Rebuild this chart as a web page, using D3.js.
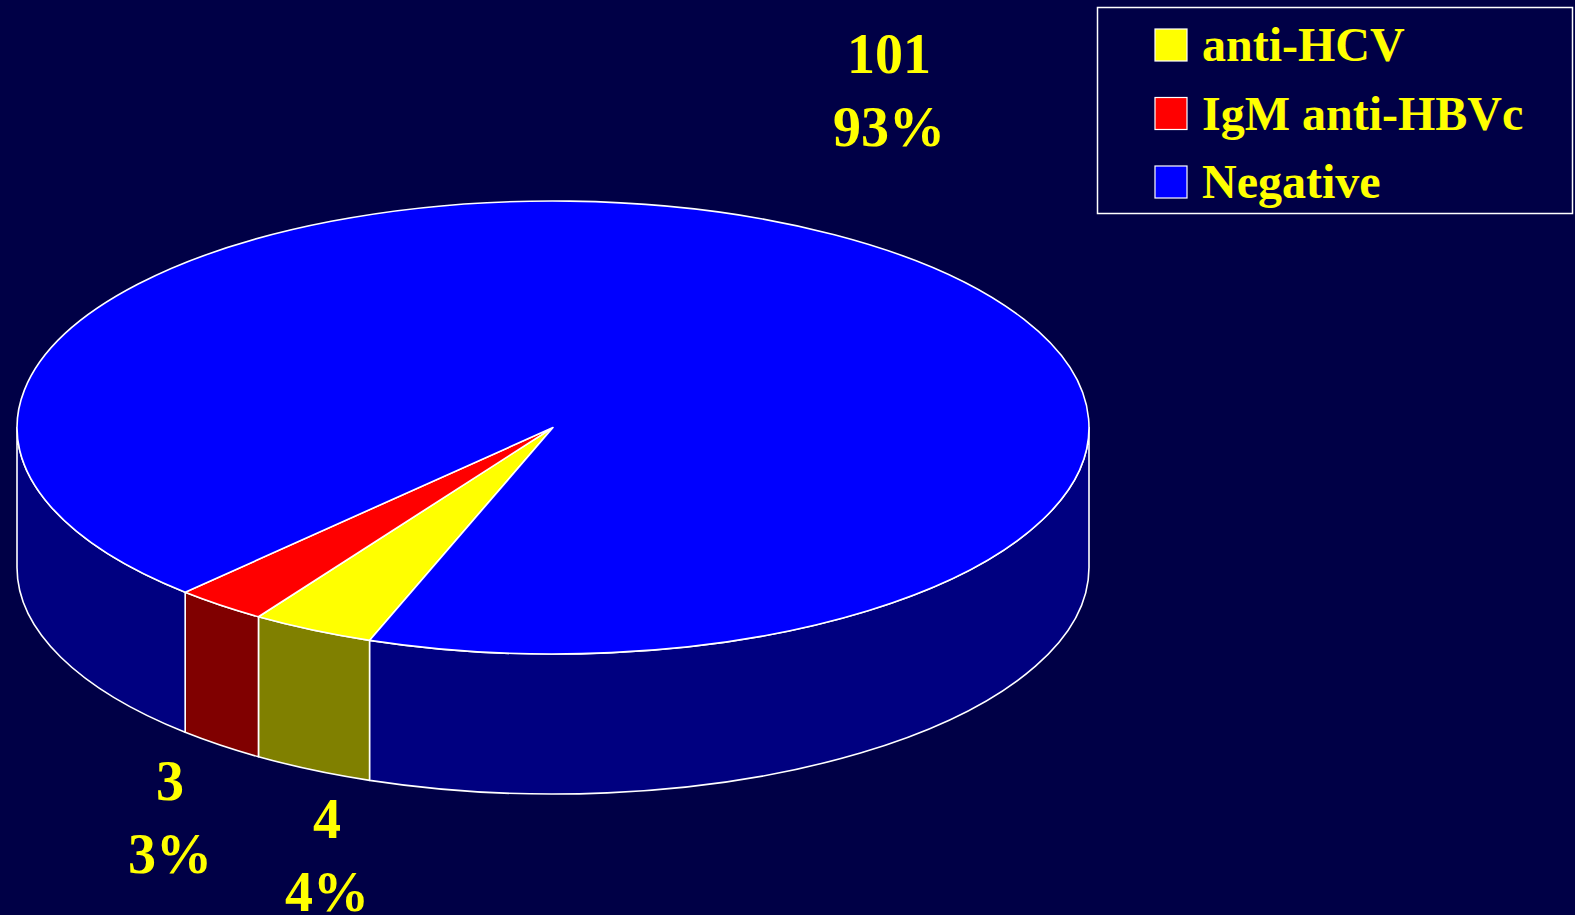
<!DOCTYPE html>
<html>
<head>
<meta charset="utf-8">
<script src="https://cdn.jsdelivr.net/npm/d3@7"></script>
<style>
  html, body { margin: 0; padding: 0; background: #000046; overflow: hidden; }
  svg { display: block; }
</style>
</head>
<body>
<svg id="chart"></svg>
<script>
// data
const categories = ["anti-HCV", "IgM anti-HBVc", "Negative"];
const counts = [4, 3, 101];
const topColors = ["#ffff00", "#ff0000", "#0000ff"];
const sideColors = ["#808000", "#800000", "#000080"];

// layout
const W = 1575, H = 915;
const cx = 553, cy = 427.5, rx = 536, ry = 226.5, depth = 140;
const startDeg = 200; // first slice starts at lower left, going clockwise
// label anchors (centre x, first baseline) per slice
const labelAt = [[327, 838], [170, 800], [889, 73]];

const svg = d3.select("#chart").attr("width", W).attr("height", H);
svg.append("rect").attr("width", W).attr("height", H).attr("fill", "#000046");

const rad = d => d * Math.PI / 180;
const pie = d3.pie().sort(null)
  .startAngle(rad(startDeg))
  .endAngle(rad(startDeg + 360));
const arcs = pie(counts);
const total = d3.sum(counts);

// whole percents that add up to 100 (largest remainder)
const raw = counts.map(v => v / total * 100);
const pcts = raw.map(Math.floor);
let left = 100 - d3.sum(pcts);
d3.range(raw.length)
  .sort((a, b) => (raw[b] - pcts[b]) - (raw[a] - pcts[a]))
  .forEach(i => { if (left > 0) { pcts[i]++; left--; } });

// point on the ellipse for a d3 pie angle (0 = 12 o'clock, clockwise)
const pt = (a, dz = 0) => [cx + rx * Math.sin(a), cy - ry * Math.cos(a) + dz];

function topPath(d) {
  const p0 = pt(d.startAngle), p1 = pt(d.endAngle);
  const large = (d.endAngle - d.startAngle) > Math.PI ? 1 : 0;
  return `M${cx},${cy}L${p0[0]},${p0[1]}A${rx},${ry} 0 ${large} 1 ${p1[0]},${p1[1]}Z`;
}

// parts of a slice that lie on the front half (facing the viewer)
function frontParts(d) {
  const out = [];
  for (let k = -1; k <= 2; k++) {
    const lo = Math.max(d.startAngle, Math.PI / 2 + 2 * Math.PI * k);
    const hi = Math.min(d.endAngle, 3 * Math.PI / 2 + 2 * Math.PI * k);
    if (hi > lo) out.push([lo, hi]);
  }
  return out;
}

function sidePath([s0, s1]) {
  const a = pt(s0), b = pt(s1), c = pt(s1, depth), e = pt(s0, depth);
  return `M${a[0]},${a[1]}A${rx},${ry} 0 0 1 ${b[0]},${b[1]}` +
         `L${c[0]},${c[1]}A${rx},${ry} 0 0 0 ${e[0]},${e[1]}Z`;
}

// side walls
const sides = [];
arcs.forEach((d, i) => frontParts(d).forEach(p => sides.push({ p, i })));
svg.append("g")
  .selectAll("path")
  .data(sides)
  .join("path")
  .attr("d", d => sidePath(d.p))
  .attr("fill", d => sideColors[d.i])
  .attr("stroke", "#ffffff")
  .attr("stroke-width", 1.6)
  .attr("stroke-linejoin", "round");

// top faces
svg.append("g")
  .selectAll("path")
  .data(arcs)
  .join("path")
  .attr("d", topPath)
  .attr("fill", (d, i) => topColors[i])
  .attr("stroke", "#ffffff")
  .attr("stroke-width", 1.6)
  .attr("stroke-linejoin", "round");

// data labels
const labels = svg.append("g")
  .attr("font-family", "'Liberation Serif', 'Times New Roman', serif")
  .attr("font-weight", "bold")
  .attr("font-size", 56)
  .attr("fill", "#ffff00")
  .attr("text-anchor", "middle")
  .selectAll("text")
  .data(arcs)
  .join("text")
  .attr("x", (d, i) => labelAt[i][0])
  .attr("y", (d, i) => labelAt[i][1]);
labels.append("tspan")
  .attr("x", (d, i) => labelAt[i][0])
  .text(d => d.data);
labels.append("tspan")
  .attr("x", (d, i) => labelAt[i][0])
  .attr("dy", 73)
  .text((d, i) => pcts[i] + "%");

// legend
const legend = svg.append("g");
legend.append("rect")
  .attr("x", 1097.5).attr("y", 7.5)
  .attr("width", 475).attr("height", 206)
  .attr("fill", "none")
  .attr("stroke", "#ffffff")
  .attr("stroke-width", 1.5);

const rowY = d3.scalePoint().domain(categories).range([29, 166]);
const rows = legend.selectAll("g.row")
  .data(categories)
  .join("g")
  .attr("class", "row")
  .attr("transform", d => `translate(1155,${rowY(d)})`);
rows.append("rect")
  .attr("width", 32).attr("height", 32)
  .attr("fill", (d, i) => topColors[i])
  .attr("stroke", "#ffffff")
  .attr("stroke-width", 1.2);
rows.append("text")
  .attr("x", 47)
  .attr("y", 32)
  .attr("font-family", "'Liberation Serif', 'Times New Roman', serif")
  .attr("font-weight", "bold")
  .attr("font-size", 48)
  .attr("fill", "#ffff00")
  .text(d => d);
</script>
</body>
</html>
